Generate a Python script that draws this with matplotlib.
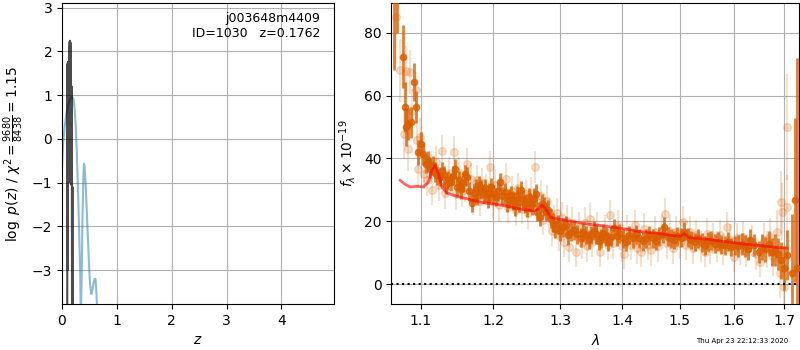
import numpy as np
import matplotlib
matplotlib.use('Agg')
import matplotlib.pyplot as plt
from matplotlib.ticker import FixedLocator, NullLocator, FormatStrFormatter

# p(z) curves
z_coarse = [0.0, 0.02, 0.05, 0.08, 0.11, 0.14, 0.17, 0.19, 0.21, 0.23, 0.25, 0.27, 0.29,
            0.31, 0.33, 0.345, 0.36, 0.375, 0.39, 0.40, 0.41, 0.43, 0.45, 0.47, 0.49, 0.51,
            0.535, 0.555, 0.575, 0.595, 0.61, 0.625, 0.64, 0.66]
lnp_coarse = [-0.6, -0.1, 0.3, 0.58, 0.76, 0.88, 0.95, 0.96, 0.9, 0.7, 0.3, -0.3, -1.1,
              -2.0, -3.0, -4.2, -3.0, -1.7, -0.85, -0.57, -0.62, -1.0, -1.6, -2.2, -2.8, -3.3,
              -3.55, -3.45, -3.3, -3.2, -3.2, -3.45, -3.9, -4.5]

z_fine = [0.095, 0.100, 0.103, 0.106, 0.110, 0.113, 0.116, 0.120, 0.123, 0.126, 0.130,
          0.133, 0.136, 0.140, 0.143, 0.146, 0.150, 0.153, 0.156, 0.160, 0.163, 0.166,
          0.170, 0.173, 0.176, 0.180, 0.183, 0.186, 0.190, 0.195]
lnp_fine = [-4.5, 1.70, -3.0, 1.74, 1.2, 1.76, 0.9, 1.75, 1.6, -1.0, 1.9, 2.1, 1.5, 2.22,
            2.0, 2.24, 1.8, 2.2, -0.7, 2.1, 1.6, 0.5, -1.05, 1.2, 0.4, -0.75, -4.5, -4.5,
            -1.1, -4.5]

# binned spectrum: wavelength (um), flux, error
wave_bin = [1.0651, 1.0695, 1.0763, 1.0796, 1.0809, 1.0838, 1.0869, 1.0904, 1.0939, 1.0969,
            1.1000, 1.1026, 1.1070, 1.1095, 1.1115, 1.1160, 1.1185, 1.1213, 1.1258, 1.1280,
            1.1304, 1.1330, 1.1358, 1.1404, 1.1430, 1.1464, 1.1490, 1.1511, 1.1540, 1.1572,
            1.1600, 1.1628, 1.1660, 1.1700, 1.1725, 1.1747, 1.1770, 1.1795, 1.1825, 1.1858,
            1.1885, 1.1916, 1.1940, 1.1965, 1.2000, 1.2037, 1.2070, 1.2101, 1.2130, 1.2160,
            1.2190, 1.2219, 1.2250, 1.2284, 1.2315, 1.2349, 1.2380, 1.2409, 1.2435, 1.2459,
            1.2490, 1.2519, 1.2540, 1.2560, 1.2590, 1.2621, 1.2650, 1.2687, 1.2720, 1.2753,
            1.2785, 1.2815, 1.2854, 1.2880, 1.2920, 1.2960, 1.3000, 1.3040, 1.3089, 1.3120,
            1.3168, 1.3220, 1.3270, 1.3326, 1.3360, 1.3406, 1.3450, 1.3487, 1.3530, 1.3568,
            1.3610, 1.3650, 1.3690, 1.3732, 1.3770, 1.3815, 1.3870, 1.3910, 1.3953, 1.4010,
            1.4065, 1.4120, 1.4178, 1.4235, 1.4292, 1.4350, 1.4407, 1.4465, 1.4523, 1.4580,
            1.4640, 1.4700, 1.4723, 1.4790, 1.4850, 1.4904, 1.4960, 1.5020, 1.5085, 1.5150,
            1.5210, 1.5270, 1.5330, 1.5400, 1.5458, 1.5520, 1.5580, 1.5642, 1.5700, 1.5760,
            1.5833, 1.5900, 1.5960, 1.6027, 1.6090, 1.6156, 1.6220, 1.6280, 1.6319, 1.6400,
            1.6487, 1.6550, 1.6620, 1.6689, 1.6750, 1.6825, 1.6880, 1.6940, 1.6997, 1.7065,
            1.7154, 1.7218, 1.7274]
flux_bin = [95.0, 100.0, 72.4, 56.3, 50.0, 51.0, 51.5, 64.4, 56.3, 42.0,
            44.5, 41.3, 38.3, 39.5, 36.7, 37.8, 35.5, 34.6, 34.1, 36.0,
            34.6, 31.5, 33.0, 32.5, 34.5, 36.7, 31.0, 33.0, 30.2, 32.2,
            35.0, 34.1, 29.5, 25.8, 29.0, 30.4, 28.0, 31.4, 30.0, 28.8,
            30.5, 27.2, 29.0, 30.9, 28.5, 27.7, 29.5, 32.5, 28.0, 29.3,
            26.0, 27.2, 28.2, 26.7, 24.8, 28.3, 26.0, 29.8, 27.0, 25.6,
            24.2, 27.7, 26.0, 25.1, 27.5, 28.8, 23.0, 21.4, 25.5, 24.6,
            23.0, 23.7, 20.8, 19.5, 17.5, 19.0, 16.8, 18.0, 18.7, 15.5,
            16.6, 17.1, 15.8, 14.8, 16.5, 15.6, 14.2, 15.6, 17.0, 15.9,
            13.8, 14.5, 16.2, 15.2, 13.5, 15.0, 17.7, 15.2, 16.1, 14.6,
            13.4, 15.6, 14.5, 15.8, 14.5, 13.6, 14.5, 15.5, 14.5, 13.8,
            15.2, 16.0, 18.2, 15.0, 14.5, 14.0, 15.2, 14.8, 16.6, 14.9,
            14.0, 13.4, 14.5, 13.2, 12.4, 13.6, 13.8, 12.9, 13.5, 12.5,
            12.4, 13.5, 11.8, 12.4, 12.0, 12.9, 12.2, 11.0, 14.0, 12.5,
            10.3, 11.8, 11.0, 12.9, 10.2, 10.8, 9.5, 7.5, 5.0, 9.2,
            3.4, 26.7, 5.0]
err_bin = [27, 20, 10, 8, 6, 5, 5, 6, 5, 4,
           4, 3.5, 3, 3, 3, 3, 3, 3, 3, 3,
           3, 3, 3, 3, 3, 3, 3, 3, 3, 3,
           3, 3, 3, 3, 3, 3, 3, 3, 3, 3,
           3, 3, 3, 3, 3, 3, 3, 3, 3, 3,
           3, 3, 3, 3, 3, 3, 3, 3, 3, 3,
           3, 3, 3, 3, 3, 3, 3, 3, 3, 3,
           3, 3, 3, 3, 3, 3, 3, 3, 3, 3,
           3, 3, 3, 3, 3, 3, 3, 3, 3, 3,
           3, 3, 3, 3, 3, 3, 3, 3, 3, 3,
           3, 3, 3, 3, 3, 3, 3, 3, 3, 3,
           3, 3, 3, 3, 3, 3, 3, 3, 3, 3,
           3, 3, 3, 3, 3, 3, 3, 3, 3, 3,
           3, 3, 3, 3, 3.5, 3.5, 3.5, 3.5, 3.5, 3.5,
           3.5, 4, 4, 4, 4.5, 5, 5, 6, 7, 8,
           19, 26, 67]

# full-resolution spectrum
wave_full = [1.0680, 1.0730, 1.0782, 1.0809, 1.0838, 1.0861, 1.0880, 1.0939, 1.0955, 1.0969,
             1.0987, 1.1035, 1.1050, 1.1085, 1.1130, 1.1150, 1.1200, 1.1240, 1.1280, 1.1320,
             1.1380, 1.1441, 1.1475, 1.1520, 1.1560, 1.1600, 1.1628, 1.1680, 1.1715, 1.1760,
             1.1810, 1.1840, 1.1900, 1.1955, 1.1990, 1.2020, 1.2085, 1.2120, 1.2175, 1.2205,
             1.2265, 1.2330, 1.2365, 1.2420, 1.2475, 1.2505, 1.2550, 1.2606, 1.2640, 1.2700,
             1.2740, 1.2800, 1.2830, 1.2870, 1.2905, 1.2945, 1.2985, 1.3020, 1.3060, 1.3100,
             1.3140, 1.3190, 1.3240, 1.3290, 1.3345, 1.3390, 1.3430, 1.3470, 1.3510, 1.3590,
             1.3630, 1.3710, 1.3760, 1.3800, 1.3850, 1.3930, 1.3990, 1.4040, 1.4090, 1.4150,
             1.4210, 1.4260, 1.4320, 1.4380, 1.4440, 1.4500, 1.4555, 1.4610, 1.4680, 1.4735,
             1.4770, 1.4820, 1.4880, 1.4940, 1.5000, 1.5060, 1.5120, 1.5180, 1.5240, 1.5300,
             1.5380, 1.5458, 1.5500, 1.5560, 1.5620, 1.5680, 1.5740, 1.5800, 1.5870, 1.5940,
             1.6000, 1.6060, 1.6120, 1.6190, 1.6250, 1.6350, 1.6430, 1.6518, 1.6600, 1.6650,
             1.6720, 1.6780, 1.6860, 1.6920, 1.6940, 1.6960, 1.7000, 1.7050, 1.7065]
flux_full = [85.0, 68.0, 47.8, 67.9, 43.1, 67.4, 55.0, 61.6, 46.0, 36.7,
             46.8, 35.1, 40.0, 33.0, 37.5, 30.0, 39.0, 31.5, 42.5, 29.0,
             35.5, 42.0, 28.5, 35.5, 29.5, 31.0, 38.3, 33.5, 27.0, 33.0,
             26.5, 32.0, 30.0, 37.2, 26.0, 31.5, 25.0, 30.5, 33.5, 24.5,
             29.5, 23.5, 30.5, 24.0, 28.5, 22.5, 29.0, 37.2, 26.0, 28.0,
             20.5, 26.5, 22.4, 17.0, 20.0, 22.5, 15.5, 21.0, 13.5, 20.0,
             11.9, 19.5, 10.3, 18.0, 13.0, 19.5, 12.0, 20.8, 13.5, 18.0,
             10.3, 17.0, 12.5, 21.9, 13.0, 18.5, 12.0, 9.7, 17.0, 12.5,
             18.7, 11.5, 10.3, 17.5, 12.5, 10.8, 16.5, 12.0, 17.0, 22.4,
             13.0, 17.0, 11.5, 16.5, 13.0, 19.8, 12.5, 16.5, 11.5, 15.5,
             12.0, 10.3, 16.0, 11.5, 14.5, 12.0, 15.5, 11.0, 18.0, 14.0,
             8.7, 14.5, 11.0, 15.0, 10.5, 13.5, 9.5, 7.1, 14.0, 11.0,
             15.0, 8.5, 16.6, 3.4, 26.1, 23.0, -0.8, 24.6, 50.0]
err_full = [15, 10, 8, 8, 7, 7, 7, 6, 6, 6,
            6, 5, 5, 5, 5, 5, 5, 5, 5, 5,
            5, 5, 5, 5, 5, 5, 5, 5, 5, 5,
            5, 5, 5, 5, 5, 5, 5, 5, 5, 5,
            5, 5, 5, 5, 5, 5, 5, 5, 5, 5,
            5, 5, 5, 5, 5, 5, 5, 5, 5, 5,
            5, 5, 5, 5, 5, 5, 5, 5, 5, 5,
            5, 5, 5, 5, 5, 5, 5, 5, 5, 5,
            5, 5, 5, 5, 5, 5, 5, 5, 5, 5,
            5, 5, 5, 5, 5, 5, 5, 5, 5, 5,
            5, 5, 5, 5, 5, 5, 5, 5, 5, 5,
            5, 5, 5, 5, 5, 5, 5, 5, 5.5, 6,
            6, 6, 7, 8, 10, 9, 10, 10, 17]

# best-fit model
wave_model = [1.0731, 1.0795, 1.0861, 1.0948, 1.1035, 1.1101, 1.1146, 1.1190, 1.1235, 1.1280,
              1.1348, 1.1487, 1.1666, 1.1852, 1.2041, 1.2233, 1.2428, 1.2601, 1.2667, 1.2717,
              1.2777, 1.2854, 1.2984, 1.3194, 1.3463, 1.3740, 1.4022, 1.4310, 1.4604, 1.4904,
              1.5013, 1.5085, 1.5160, 1.5517, 1.5833, 1.6156, 1.6487, 1.6825, 1.7065]
flux_model = [33.0, 31.7, 30.9, 31.1, 30.9, 32.5, 36.2, 37.8, 35.1, 30.9,
              29.0, 27.9, 26.9, 25.9, 25.4, 24.6, 23.7, 23.3, 24.0, 25.2,
              24.0, 21.2, 20.6, 19.9, 19.0, 18.4, 17.6, 16.7, 16.1, 15.4,
              15.2, 16.1, 14.8, 14.2, 13.5, 12.8, 12.3, 11.7, 11.4]

col = '#d95f02'

fig = plt.figure(figsize=(8, 3.5), dpi=100)
ax1 = fig.add_axes([0.0775, 0.131, 0.34, 0.860])
ax2 = fig.add_axes([0.489, 0.131, 0.510, 0.860])

# redshift panel
ax1.plot(z_coarse, lnp_coarse, color='tab:blue', alpha=0.5, lw=1.5)
ax1.plot(z_fine, lnp_fine, color='k', alpha=0.7, lw=1.5)
ax1.set_xlim(0, 4.96)
ax1.set_ylim(-3.78, 3.1)
ax1.set_xlabel(r'$z$')
ax1.set_ylabel(r'$\log\ p(z)$' + ' / ' + r'$\chi^2=\frac{9680}{8438}=1.15$')
ax1.grid()
ax1.text(0.95, 0.97, 'j003648m4409\nID=1030   z=0.1762', ha='right', va='top',
         transform=ax1.transAxes, fontsize=9)

# spectrum panel
ax2.errorbar(wave_full, flux_full, yerr=err_full, color=col, alpha=0.2,
             marker='o', ms=5.5, linestyle='None', lw=1.5, zorder=2)
ax2.errorbar(wave_bin, flux_bin, yerr=err_bin, color=col, alpha=0.8,
             marker='o', ms=4.5, linestyle='None', lw=2, zorder=3)
ax2.plot(wave_model, flux_model, color='r', alpha=0.6, lw=2, zorder=4)
ax2.axhline(0, color='k', linestyle=':', lw=1.5, zorder=5)

ax2.set_xscale('log')
ax2.set_xlim(1.0616, 1.731)
ax2.set_ylim(-6.4, 89.4)
ax2.xaxis.set_major_locator(FixedLocator([1.1, 1.2, 1.3, 1.4, 1.5, 1.6, 1.7]))
ax2.xaxis.set_major_formatter(FormatStrFormatter('%.1f'))
ax2.xaxis.set_minor_locator(NullLocator())
ax2.set_xlabel(r'$\lambda$')
ax2.set_ylabel(r'$f_\lambda\times10^{-19}$')
ax2.grid()

fig.text(0.985, 0.018, 'Thu Apr 23 22:12:33 2020', ha='right', va='bottom', fontsize=5)

fig.savefig('out.png', dpi=100)
